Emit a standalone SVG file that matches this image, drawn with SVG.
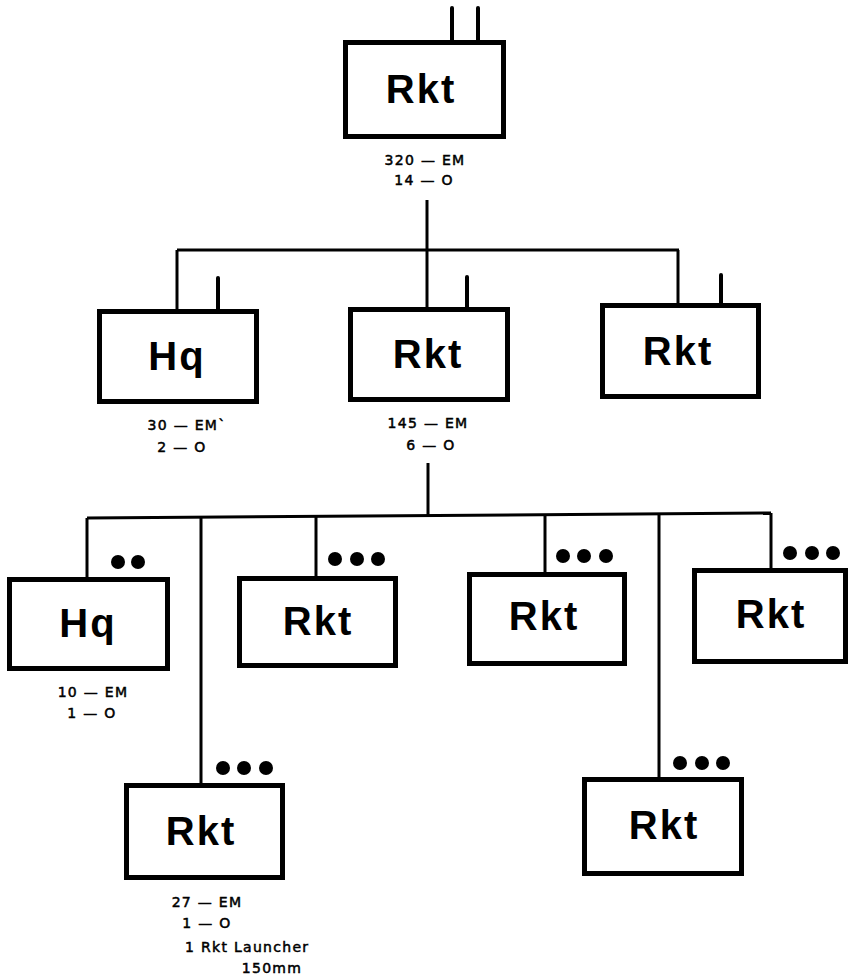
<svg xmlns="http://www.w3.org/2000/svg" width="849" height="976" viewBox="0 0 849 976">
<style>
.box{fill:none;stroke:#000;stroke-width:5}
.stem{stroke:#000;stroke-width:4;stroke-linecap:round}
.ln{stroke:#000;stroke-width:3;fill:none}
.dot{fill:#000}
.big{font-family:"Liberation Sans",Arial,sans-serif;font-weight:bold;font-size:40px;letter-spacing:2px;text-anchor:middle;fill:#000}
.lab{font-family:"DejaVu Sans","Liberation Sans",sans-serif;font-size:14px;letter-spacing:1.3px;text-anchor:middle;fill:#000;stroke:#000;stroke-width:0.5}
</style>
<rect width="849" height="976" fill="#fff"/>
<g id="connectors">
<line class="ln" x1="427" y1="200" x2="427" y2="307"/>
<line class="ln" x1="177" y1="250" x2="679" y2="250"/>
<line class="ln" x1="177" y1="250" x2="177" y2="310"/>
<line class="ln" x1="678" y1="250" x2="678" y2="305"/>
<line class="ln" x1="428" y1="463" x2="428" y2="516"/>
<line class="ln" x1="87" y1="518" x2="771" y2="513"/>
<line class="ln" x1="87" y1="518" x2="87" y2="579"/>
<line class="ln" x1="201" y1="517" x2="201" y2="785"/>
<line class="ln" x1="316" y1="517" x2="316" y2="578"/>
<line class="ln" x1="545" y1="515" x2="545" y2="574"/>
<line class="ln" x1="659" y1="514" x2="659" y2="779"/>
<line class="ln" x1="771" y1="513" x2="771" y2="570"/>
</g>
<g id="n-top">
<rect class="box" x="345.5" y="42.5" width="158" height="94"/>
<line class="stem" x1="452" y1="8" x2="452" y2="42"/>
<line class="stem" x1="478" y1="8" x2="478" y2="42"/>
<text class="big" x="421" y="103">Rkt</text>
<text class="lab" x="425" y="165">320 — EM</text>
<text class="lab" x="424" y="185">14 — O</text>
</g>
<g id="n-hq1">
<rect class="box" x="99.5" y="311.5" width="157" height="90"/>
<line class="stem" x1="218" y1="278" x2="218" y2="311"/>
<text class="big" x="177" y="370">Hq</text>
<text class="lab" x="187" y="430">30 — EM`</text>
<text class="lab" x="182" y="452">2 — O</text>
</g>
<g id="n-rkt1">
<rect class="box" x="350.5" y="309.5" width="157" height="90"/>
<line class="stem" x1="467" y1="277" x2="467" y2="309"/>
<text class="big" x="428" y="368">Rkt</text>
<text class="lab" x="428" y="428">145 — EM</text>
<text class="lab" x="431" y="450">6 — O</text>
</g>
<g id="n-rkt2">
<rect class="box" x="602.5" y="305.5" width="156" height="91"/>
<line class="stem" x1="721" y1="275" x2="721" y2="306"/>
<text class="big" x="678" y="365">Rkt</text>
</g>
<g id="n-hq2">
<rect class="box" x="9.5" y="579.5" width="158" height="89"/>
<circle class="dot" cx="118" cy="562" r="7"/>
<circle class="dot" cx="138" cy="562" r="7"/>
<text class="big" x="88" y="637">Hq</text>
<text class="lab" x="93" y="697">10 — EM</text>
<text class="lab" x="92" y="718">1 — O</text>
</g>
<g id="n-rkt3">
<rect class="box" x="239.5" y="578.5" width="156" height="87"/>
<circle class="dot" cx="335" cy="559" r="7"/>
<circle class="dot" cx="357" cy="559" r="7"/>
<circle class="dot" cx="378" cy="559" r="7"/>
<text class="big" x="318" y="635">Rkt</text>
</g>
<g id="n-rkt4">
<rect class="box" x="469.5" y="574.5" width="155" height="89"/>
<circle class="dot" cx="563" cy="556" r="7"/>
<circle class="dot" cx="584" cy="556" r="7"/>
<circle class="dot" cx="606" cy="556" r="7"/>
<text class="big" x="544" y="630">Rkt</text>
</g>
<g id="n-rkt5">
<rect class="box" x="694.5" y="570.5" width="151" height="91"/>
<circle class="dot" cx="790" cy="553" r="7"/>
<circle class="dot" cx="812" cy="553" r="7"/>
<circle class="dot" cx="833" cy="553" r="7"/>
<text class="big" x="771" y="628">Rkt</text>
</g>
<g id="n-rkt6">
<rect class="box" x="126.5" y="785.5" width="156" height="92"/>
<circle class="dot" cx="223" cy="768" r="7"/>
<circle class="dot" cx="244" cy="768" r="7"/>
<circle class="dot" cx="266" cy="768" r="7"/>
<text class="big" x="201" y="845">Rkt</text>
<text class="lab" x="207" y="907">27 — EM</text>
<text class="lab" x="207" y="928">1 — O</text>
<text class="lab" x="185" y="952" style="text-anchor:start">1 Rkt Launcher</text>
<text class="lab" x="272" y="973">150mm</text>
</g>
<g id="n-rkt7">
<rect class="box" x="584.5" y="779.5" width="157" height="94"/>
<circle class="dot" cx="680" cy="763" r="7"/>
<circle class="dot" cx="702" cy="763" r="7"/>
<circle class="dot" cx="723" cy="763" r="7"/>
<text class="big" x="664" y="839">Rkt</text>
</g>
</svg>
